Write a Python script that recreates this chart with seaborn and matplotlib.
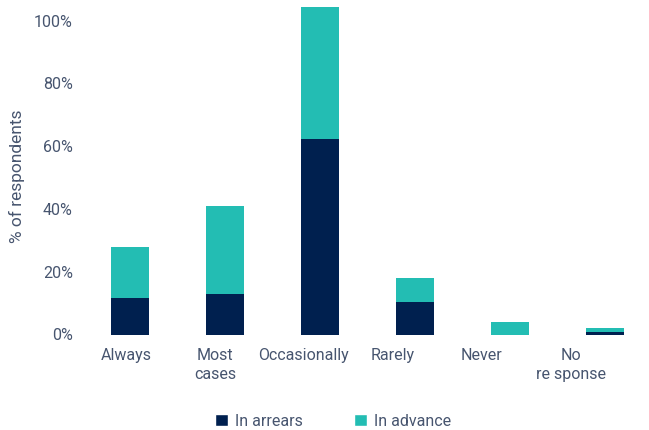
import matplotlib
matplotlib.use("Agg")
import matplotlib.pyplot as plt
from matplotlib.patches import Patch
from matplotlib.ticker import FuncFormatter
import seaborn as sns
import pandas as pd

# Survey answers and the share of respondents per timing of payment
categories = ["Always", "Most\ncases", "Occasionally", "Rarely", "Never", "No\nre sponse"]
in_arrears = [11.6, 12.8, 62.4, 10.4, 0.0, 0.9]
in_advance = [16.2, 28.1, 42.0, 7.7, 4.1, 1.1]
y_ticks = [0, 20, 40, 60, 80, 100]

NAVY = "#00204f"
TEAL = "#23bdb3"
TEXT = "#47556f"

sns.set_theme(style="white")
plt.rcParams["font.family"] = ["Roboto", "DejaVu Sans"]
plt.rcParams["text.color"] = TEXT
plt.rcParams["axes.labelcolor"] = TEXT
plt.rcParams["xtick.color"] = TEXT
plt.rcParams["ytick.color"] = TEXT

df = pd.DataFrame({
    "category": categories,
    "arrears": in_arrears,
    "advance": in_advance,
})
df["total"] = df["arrears"] + df["advance"]

fig = plt.figure(figsize=(6.49, 4.30), dpi=100)
ax = fig.add_axes([82.5 / 649, 95.5 / 430, 566.5 / 649, 328.1 / 430])

# stacked bars: full height in teal, the arrears part drawn over it in navy
sns.barplot(data=df, x="category", y="total", color=TEAL, width=0.4,
            saturation=1, ax=ax, edgecolor="none")
sns.barplot(data=df, x="category", y="arrears", color=NAVY, width=0.4,
            saturation=1, ax=ax, edgecolor="none")

ax.set_xlim(-0.5, 5.46)
ax.set_ylim(0, 104.5)
ax.set_yticks(y_ticks)
ax.yaxis.set_major_formatter(FuncFormatter(lambda v, _: f"{v:.0f}%"))

# category labels sit on a slightly tighter pitch than the bars
label_pos = [i * 0.935 - 0.04 for i in range(len(categories))]
ax.set_xticks(label_pos)
ax.set_xticklabels(categories)

ax.set_xlabel("")
ax.set_ylabel("% of respondents", fontsize=12.5, va="center")
ax.yaxis.set_label_coords(-0.1156, 0.483)
ax.tick_params(axis="both", length=0, labelsize=11.5)
ax.tick_params(axis="x", pad=10)
ax.tick_params(axis="y", pad=7)
for lbl in ax.get_xticklabels():
    lbl.set_linespacing(1.3)
sns.despine(ax=ax, left=True, bottom=True)

handles = [Patch(facecolor=NAVY, label="In arrears"),
           Patch(facecolor=TEAL, label="In advance")]
fig.legend(handles=handles, loc="center", bbox_to_anchor=(0.513, 1 - 421 / 430),
           ncol=2, frameon=False, fontsize=11.5, handlelength=0.85,
           handleheight=0.85, handletextpad=0.4, columnspacing=3.2)

fig.savefig("out.png", dpi=100)
